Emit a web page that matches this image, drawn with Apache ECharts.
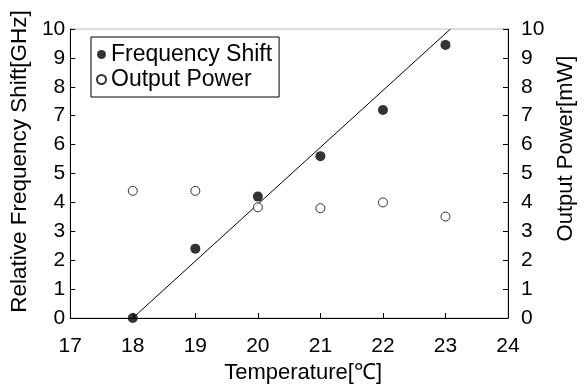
<!DOCTYPE html>
<html>
<head>
<meta charset="utf-8">
<script src="https://cdn.jsdelivr.net/npm/echarts@6/dist/echarts.min.js"></script>
<style>
html,body{margin:0;padding:0;background:#fff;}
#chart{width:587px;height:390px;}
</style>
</head>
<body>
<div id="chart"></div>
<script>
// Data
const temperatures = [18, 19, 20, 21, 22, 23];
const frequencyShift = [0, 2.4, 4.2, 5.6, 7.2, 9.45];
const outputPower = [4.4, 4.4, 3.83, 3.8, 4.0, 3.51];
const fitTemps = [18, 23.08];
const fitShift = [0, 10];
const seriesNames = ['Frequency Shift', 'Output Power'];
const xAxisTitle = 'Temperature[\u2103]';
const leftAxisTitle = 'Relative Frequency Shift[GHz]';
const rightAxisTitle = 'Output Power[mW]';

const FONT = '"Liberation Sans", Arial, sans-serif';
const pairs = (xs, ys) => xs.map((x, i) => [x, ys[i]]);

const chart = echarts.init(document.getElementById('chart'));
const yAxisBase = {
  type: 'value', min: 0, max: 10, interval: 1,
  nameLocation: 'middle', nameRotate: 90,
  axisLine: {show: true, lineStyle: {color: '#000', width: 1}},
  axisTick: {show: true, inside: true, length: 5, lineStyle: {color: '#000'}},
  splitLine: {show: false},
  axisLabel: {color: '#000', fontSize: 21, fontFamily: FONT, padding: [10, 0, 0, 0]}
};
chart.setOption({
  animation: false,
  backgroundColor: '#fff',
  grid: {left: 69, right: 79, top: 29, bottom: 72, show: true, borderColor: '#bbb', borderWidth: 1},
  legend: {
    data: seriesNames,
    orient: 'vertical', left: 91, top: 37,
    borderColor: '#000', borderWidth: 1,
    padding: [6, 7, 6, 5], itemGap: 2,
    itemWidth: 9, itemHeight: 9,
    textStyle: {color: '#000', fontSize: 23, fontFamily: FONT}
  },
  xAxis: {
    type: 'value', min: 17, max: 24, interval: 1,
    name: xAxisTitle, nameLocation: 'middle', nameGap: 44,
    nameTextStyle: {color: '#000', fontSize: 22, fontFamily: FONT, padding: [0, 0, 0, 28]},
    axisLine: {show: true, onZero: false, lineStyle: {color: '#000', width: 1}},
    axisTick: {show: true, inside: true, length: 5, lineStyle: {color: '#000'}},
    splitLine: {show: false},
    axisLabel: {color: '#000', fontSize: 21, fontFamily: FONT, margin: 18}
  },
  yAxis: [
    Object.assign({}, yAxisBase, {
      position: 'left', name: leftAxisTitle, nameGap: 36,
      nameTextStyle: {color: '#000', fontSize: 22.5, fontFamily: FONT, padding: [0, 0, 0, 24]},
      axisLabel: Object.assign({}, yAxisBase.axisLabel, {margin: 5})
    }),
    Object.assign({}, yAxisBase, {
      position: 'right', name: rightAxisTitle, nameGap: 46,
      nameTextStyle: {color: '#000', fontSize: 22, fontFamily: FONT, padding: [0, 0, 0, 50]},
      axisLabel: Object.assign({}, yAxisBase.axisLabel, {margin: 13})
    })
  ],
  series: [
    {
      name: 'fit', type: 'line', xAxisIndex: 0, yAxisIndex: 0,
      data: pairs(fitTemps, fitShift), showSymbol: false, symbol: 'none',
      lineStyle: {color: '#000', width: 1}, z: 1, silent: true
    },
    {
      name: seriesNames[0], type: 'scatter', yAxisIndex: 0,
      data: pairs(temperatures, frequencyShift),
      symbol: 'circle', symbolSize: 10,
      itemStyle: {color: '#000'}, z: 3
    },
    {
      name: seriesNames[1], type: 'scatter', yAxisIndex: 1,
      data: pairs(temperatures, outputPower),
      symbol: 'circle', symbolSize: 9,
      itemStyle: {color: '#fff', borderColor: '#000', borderWidth: 1}, z: 3
    }
  ]
});
</script>
</body>
</html>
